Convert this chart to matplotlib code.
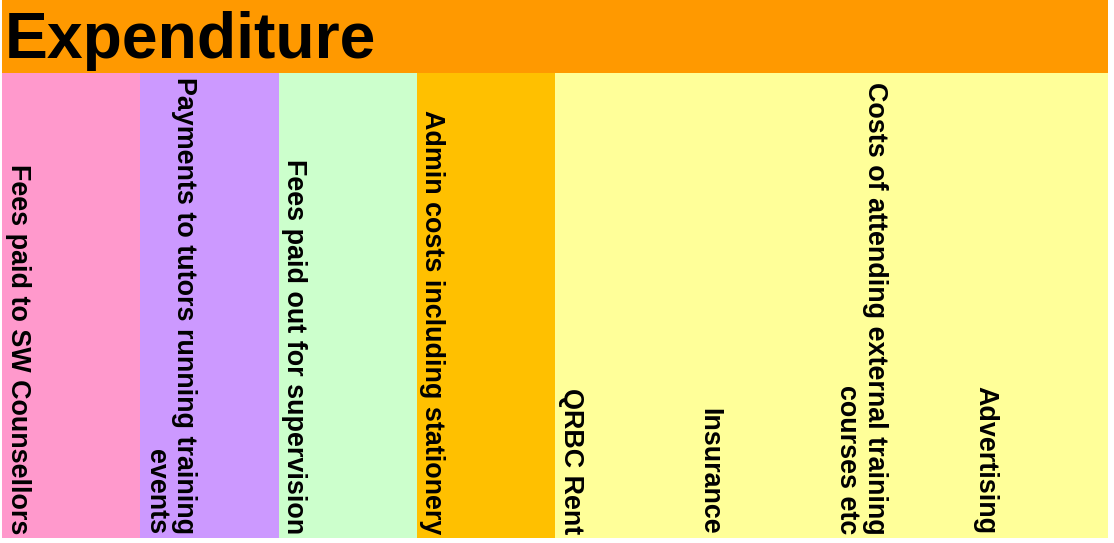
import matplotlib
matplotlib.use("Agg")
import matplotlib.pyplot as plt
from matplotlib.patches import Rectangle
import matplotlib.transforms as mtransforms
import numpy as np

# ---- data ----
title = "Expenditure"
labels = [
    "Fees paid to SW Counsellors",
    "Payments to tutors running training\nevents",
    "Fees paid out for supervision",
    "Admin costs including stationery",
    "QRBC Rent",
    "Insurance",
    "Costs of attending external training\ncourses etc",
    "Advertising",
]
groups = ["SW Counsellors", "Tutors", "Supervision", "Admin",
          "Other", "Other", "Other", "Other"]
values = [1, 1, 1, 1, 1, 1, 1, 1]
group_colors = {
    "SW Counsellors": "#FF99CC",
    "Tutors": "#CC99FF",
    "Supervision": "#CCFFCC",
    "Admin": "#FFC000",
    "Other": "#FFFF99",
}
header_color = "#FF9900"

# ---- figure ----
W, H, DPI = 1114, 543, 100
fig = plt.figure(figsize=(W / DPI, H / DPI), dpi=DPI)
fig.patch.set_facecolor("white")

left, right, top, bottom, head_h = 2, 1108, 0, 537.5, 73
ax_head = fig.add_axes([left / W, (H - top - head_h) / H, (right - left) / W, head_h / H])
ax = fig.add_axes([left / W, (H - bottom) / H, (right - left) / W, (bottom - top - head_h) / H])

for a in (ax_head, ax):
    a.set_axis_off()
    a.set_xlim(0, 1)
    a.set_ylim(0, 1)

ax_head.add_patch(Rectangle((0, 0), 1, 1, facecolor=header_color, edgecolor="none"))
title_tr = ax_head.transAxes + mtransforms.ScaledTranslation(2.5 / DPI, 14.7 / DPI, fig.dpi_scale_trans)
ax_head.text(0, 0, title, transform=title_tr, ha="left", va="baseline",
             fontsize=46.3, fontweight="bold", family=["Liberation Sans", "DejaVu Sans"],
             color="black")

total = float(np.sum(values))
ax.set_xlim(0, total)
starts = np.concatenate([[0], np.cumsum(values)[:-1]])

# group rectangles (merged per group)
for g in dict.fromkeys(groups):
    idx = [i for i, gg in enumerate(groups) if gg == g]
    x0 = starts[idx[0]]
    w = sum(values[i] for i in idx)
    ax.add_patch(Rectangle((x0, 0), w, 1, facecolor=group_colors[g], edgecolor="none"))

label_tr = ax.transData + mtransforms.ScaledTranslation(2.5 / DPI, 3.0 / DPI, fig.dpi_scale_trans)
for x0, lab in zip(starts, labels):
    ax.text(x0, 0, lab, transform=label_tr, rotation=-90, ha="left", va="bottom",
            multialignment="right", fontsize=19.4, fontweight="bold",
            family=["Liberation Sans", "DejaVu Sans"], color="black", linespacing=1.1)

fig.savefig("out.png", dpi=DPI)
